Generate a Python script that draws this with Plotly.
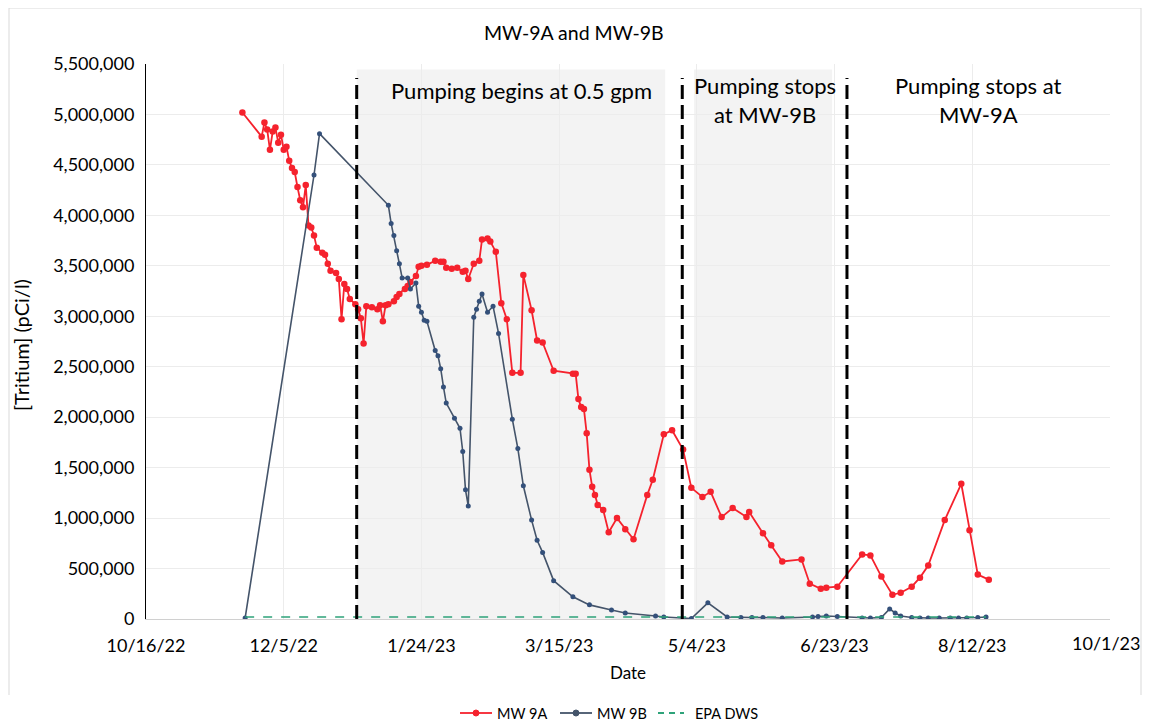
import datetime as dt
import plotly.graph_objects as go

BASE = dt.date(2022, 10, 16)

# MW 9A: days since 10/16/22 and tritium (pCi/l)
mw9a_days = [35, 42, 43, 44, 45, 46, 47, 48, 49, 50, 51, 52, 53, 54, 55, 56, 57, 58, 59, 60,
             61, 62, 64, 65, 66, 67, 69, 70, 71, 72, 73, 74, 76, 77, 78, 79, 80, 82, 84, 85,
             86, 87, 88, 90, 91, 92, 94, 95, 96, 98, 99, 100, 102, 105, 107, 108, 109, 111, 113, 115,
             116, 117, 119, 121, 122, 124, 125, 127, 129, 131, 133, 136, 137, 140, 142, 144, 148, 155, 156, 157,
             158, 159, 160, 161, 162, 163, 164, 166, 168, 171, 174, 177, 182, 184, 188, 191, 195, 198, 202, 205,
             209, 213, 218, 219, 224, 227, 231, 238, 241, 245, 247, 251, 260, 263, 267, 271, 274, 278, 281, 284,
             290, 296, 299, 302, 306]
mw9a_vals = [5020000, 4780000, 4920000, 4850000, 4650000, 4830000, 4870000, 4720000, 4800000, 4650000,
             4680000, 4540000, 4470000, 4430000, 4280000, 4150000, 4080000, 4300000, 3900000, 3880000,
             3800000, 3680000, 3630000, 3610000, 3520000, 3450000, 3430000, 3370000, 2970000, 3320000,
             3270000, 3170000, 3120000, 3070000, 2980000, 2730000, 3100000, 3090000, 3070000, 3110000,
             2950000, 3110000, 3120000, 3150000, 3190000, 3220000, 3270000, 3300000, 3340000, 3400000,
             3490000, 3500000, 3510000, 3550000, 3540000, 3540000, 3480000, 3470000, 3480000, 3440000,
             3450000, 3370000, 3520000, 3550000, 3760000, 3770000, 3740000, 3640000, 3130000, 2970000,
             2440000, 2440000, 3410000, 3060000, 2760000, 2740000, 2460000, 2430000, 2430000, 2180000,
             2100000, 2080000, 1840000, 1480000, 1310000, 1230000, 1130000, 1080000, 860000, 1000000,
             890000, 790000, 1230000, 1380000, 1830000, 1870000, 1680000, 1300000, 1210000, 1260000,
             1010000, 1100000, 1010000, 1060000, 850000, 730000, 570000, 590000, 350000, 300000,
             310000, 320000, 640000, 630000, 420000, 240000, 260000, 320000, 410000, 530000,
             980000, 1340000, 880000, 440000, 390000]

# MW 9B
mw9b_days = [36, 61, 63, 88, 89, 90, 91, 92, 93, 95, 96, 98, 99, 100, 101, 102, 105, 106, 107, 108,
             109, 112, 114, 115, 116, 117, 119, 120, 121, 122, 124, 126, 128, 133, 135, 137, 140, 142, 144, 148,
             155, 161, 169, 174, 185, 188, 198, 204, 211, 216, 220, 224, 231, 242, 244, 247, 251, 260, 263, 267,
             270, 272, 274, 278, 281, 284, 288, 292, 295, 298, 302, 305]
mw9b_vals = [10000, 4400000, 4810000, 4100000, 3920000, 3800000, 3650000, 3520000, 3380000, 3380000,
             3270000, 3330000, 3100000, 3040000, 2960000, 2950000, 2660000, 2610000, 2480000, 2300000,
             2140000, 1990000, 1890000, 1660000, 1280000, 1120000, 2990000, 3070000, 3150000, 3220000,
             3040000, 3100000, 2830000, 1980000, 1690000, 1320000, 980000, 780000, 660000, 380000,
             220000, 140000, 90000, 60000, 30000, 20000, 5000, 160000, 20000, 15000,
             15000, 15000, 10000, 20000, 25000, 30000, 25000, 10000, 10000, 15000,
             100000, 60000, 30000, 15000, 10000, 10000, 10000, 10000, 10000, 10000,
             15000, 20000]

# EPA drinking water standard
epa_days = [36, 305]
epa_vals = [20000, 20000]

# Events (days since 10/16/22)
event_days = [76.5, 194.7, 254.5]
shade_spans = [(76.5, 188.5), (199.0, 249.1)]

x_tick_days = [0, 50, 100, 150, 200, 250, 300, 350]
x_tick_text = ["10/16/22", "12/5/22", "1/24/23", "3/15/23", "5/4/23", "6/23/23", "8/12/23", "10/1/23"]

series_names = ["MW 9A", "MW 9B", "EPA DWS"]
RED, BLUE, GREEN = "#f5222d", "#44546a", "#2ea37a"

def to_dt(d):
    return dt.datetime.combine(BASE, dt.time()) + dt.timedelta(days=d)

# page-pixel helpers (page has 8px body offset; plot area 146..1110 x 64..619)
def px(X):
    return (X - 146) / 964

def py(Y):
    return (619 - Y) / 555

FONT = "Lato"
fig = go.Figure()

fig.add_trace(go.Scatter(x=[to_dt(d) for d in mw9a_days], y=mw9a_vals, name=series_names[0],
                         mode="lines+markers", line=dict(color=RED, width=1.8),
                         marker=dict(color=RED, size=6.5), showlegend=False))
fig.add_trace(go.Scatter(x=[to_dt(d) for d in mw9b_days], y=mw9b_vals, name=series_names[1],
                         mode="lines+markers", line=dict(color=BLUE, width=1.6),
                         marker=dict(color="#34507a", size=5), showlegend=False))
fig.add_trace(go.Scatter(x=[to_dt(d) for d in epa_days], y=epa_vals, name=series_names[2],
                         mode="lines", line=dict(color=GREEN, width=1.6, dash="dash"), showlegend=False))

shapes = []
for a, b in shade_spans:
    shapes.append(dict(type="rect", xref="x", yref="paper", x0=to_dt(a), x1=to_dt(b),
                       y0=0, y1=0.99, fillcolor="#f3f3f3", line=dict(width=0), layer="below"))
for d in event_days:
    shapes.append(dict(type="line", xref="x", yref="paper", x0=to_dt(d), x1=to_dt(d),
                       y0=0, y1=0.975, line=dict(color="black", width=3, dash="14px,6px")))
# outer frame (top, left, right)
frame_c = "#d9d9d9"
shapes.append(dict(type="line", xref="paper", yref="paper", x0=px(9), x1=px(1141), y0=py(8), y1=py(8),
                   line=dict(color=frame_c, width=1)))
shapes.append(dict(type="line", xref="paper", yref="paper", x0=px(9), x1=px(9), y0=py(8), y1=py(695),
                   line=dict(color=frame_c, width=1)))
shapes.append(dict(type="line", xref="paper", yref="paper", x0=px(1141), x1=px(1141), y0=py(8), y1=py(695),
                   line=dict(color=frame_c, width=1)))

# custom legend
LY = 713
legend_items = [(series_names[0], RED, 460, 492, 495, "solid", True),
                (series_names[1], BLUE, 560, 592, 595, "solid", True),
                (series_names[2], GREEN, 658, 684, 693, "6px,5px", False)]
annotations = []
for name, col, x0, x1, tx, dash, dot in legend_items:
    shapes.append(dict(type="line", xref="paper", yref="paper", x0=px(x0), x1=px(x1), y0=py(LY), y1=py(LY),
                       line=dict(color=col, width=1.8, dash=dash)))
    if dot:
        shapes.append(dict(type="circle", xref="paper", yref="paper", xsizemode="pixel", ysizemode="pixel",
                           xanchor=px((x0 + x1) / 2), yanchor=py(LY), x0=-3, x1=3, y0=-3, y1=3,
                           fillcolor=col, line=dict(color=col, width=1)))
    annotations.append(dict(text=name, xref="paper", yref="paper", x=px(tx), y=py(LY), xanchor="left",
                            yanchor="middle", showarrow=False,
                            font=dict(size=14.5, family=FONT, color="black")))

def label(text, X, Y, size, angle=0):
    return dict(text=text, xref="paper", yref="paper", x=px(X), y=py(Y), xanchor="center",
                yanchor="middle", showarrow=False, textangle=angle,
                font=dict(size=size, family=FONT, color="black"))

annotations += [
    label("Pumping begins at 0.5 gpm", 521, 91, 22),
    label("Pumping stops<br>at MW-9B", 765, 100, 22),
    label("Pumping stops at<br>MW-9A", 978, 100, 22),
    label("Date", 628, 673, 17),
    label("[Tritium] (pCi/l)", 21, 345, 20, -90),
    label("MW-9A and MW-9B", 574, 33, 19.5),
]
# last x tick label drawn as text at the right edge so it stays inside the figure
annotations.append(dict(text=x_tick_text[-1], xref="paper", yref="paper", x=px(1142), y=py(643),
                        xanchor="right", yanchor="middle", showarrow=False,
                        font=dict(size=18, family=FONT, color="black")))

fig.update_layout(
    width=1135, height=718,
    margin=dict(l=138, r=33, t=56, b=107),
    paper_bgcolor="white", plot_bgcolor="white",
    font=dict(family=FONT, color="black"),
    showlegend=False,
    shapes=shapes, annotations=annotations,
)
fig.update_xaxes(range=[to_dt(0), to_dt(350)], tickvals=[to_dt(d) for d in x_tick_days],
                 ticktext=x_tick_text[:-1] + [""], showgrid=True, gridcolor="#ececec", showline=True,
                 linecolor="#d0d0d0", ticks="", ticklabelstandoff=10,
                 tickfont=dict(size=18, family=FONT), zeroline=False)
fig.update_yaxes(range=[0, 5500000], dtick=500000, tickformat=",", showgrid=True, gridcolor="#ececec",
                 showline=True, linecolor="black", ticks="", ticklabelstandoff=7,
                 tickfont=dict(size=18, family=FONT), zeroline=False)

fig.write_html("out.html")
